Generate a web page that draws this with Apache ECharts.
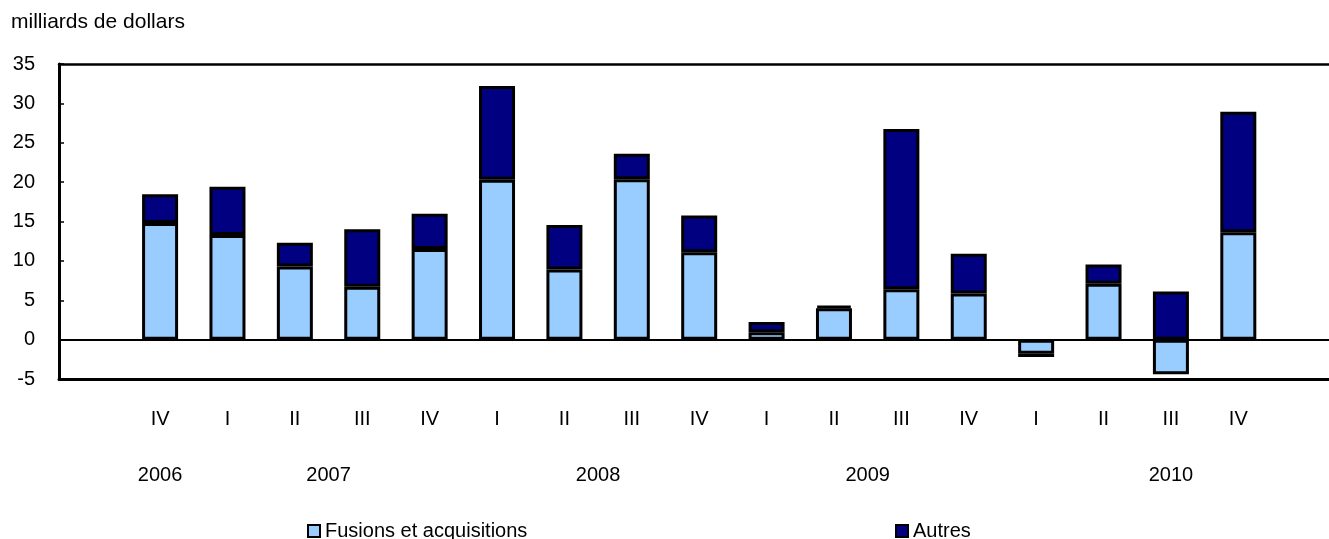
<!DOCTYPE html>
<html>
<head>
<meta charset="utf-8">
<script src="https://cdn.jsdelivr.net/npm/echarts@6/dist/echarts.min.js"></script>
<style>html,body{margin:0;padding:0;background:#fff}#c{width:1329px;height:539px}</style>
</head>
<body>
<div id="c"></div>
<script>
var quarters = ['IV','I','II','III','IV','I','II','III','IV','I','II','III','IV','I','II','III','IV'];
var years = ['2006','2007','2008','2009','2010'];
var yearAt = [0, 2.5, 6.5, 10.5, 15];
var fusions = [14.8, 13.3, 9.3, 6.7, 11.5, 20.3, 8.9, 20.35, 11.1, 0.95, 4.0, 6.4, 5.85, -1.8, 7.1, -4.4, 13.65];
var autres  = [3.65, 6.1, 3.0, 7.3, 4.5, 11.9, 5.65, 3.25, 4.65, 1.3, 0.3, 20.35, 5.05, -0.4, 2.45, 6.1, 15.3];
var yTicks = {min: -5, max: 35, step: 5};
var FONT = '"Liberation Sans", Arial, sans-serif';

// leading empty slot before the first quarter
var cats = [''].concat(quarters);
function pad(arr){ return [null].concat(arr); }

var chart = echarts.init(document.getElementById('c'));
chart.setOption({
  animation: false,
  textStyle: {fontFamily: FONT, color: '#000'},
  graphic: [{type: 'text', left: 11, top: 12, style: {text: 'milliards de dollars', font: '21px ' + FONT, fill: '#000'}}],
  grid: [
    {left: 59, right: 57, top: 64, bottom: 160},
    {left: 59, right: 0, top: 64, bottom: 160}
  ],
  xAxis: [
    {type: 'category', gridIndex: 0, data: cats, boundaryGap: true,
     axisLine: {show: false}, axisTick: {show: false}, splitLine: {show: false},
     axisLabel: {margin: 30, fontSize: 20, color: '#000', fontFamily: FONT, interval: 0}},
    {type: 'value', gridIndex: 0, position: 'bottom', min: -1.5, max: 16.5, interval: 0.5,
     axisLine: {show: false, onZero: false}, axisTick: {show: false}, splitLine: {show: false},
     axisLabel: {margin: 86, fontSize: 20, color: '#000', fontFamily: FONT,
       formatter: function(v){ for (var i=0;i<yearAt.length;i++){ if (Math.abs(v-yearAt[i])<1e-6) return years[i]; } return ''; }}},
    {type: 'value', gridIndex: 1, position: 'bottom', min: 0, max: 1,
     axisLine: {show: true, onZero: false, lineStyle: {color: '#000', width: 3}},
     axisTick: {show: false}, axisLabel: {show: false}, splitLine: {show: false}},
    {type: 'value', gridIndex: 1, position: 'top', min: 0, max: 1,
     axisLine: {show: true, onZero: false, lineStyle: {color: '#000', width: 2.5}},
     axisTick: {show: false}, axisLabel: {show: false}, splitLine: {show: false}}
  ],
  yAxis: [
    {type: 'value', gridIndex: 0, min: yTicks.min, max: yTicks.max, interval: yTicks.step,
     axisLine: {show: true, onZero: false, lineStyle: {color: '#000', width: 3}},
     axisTick: {show: true, inside: true, length: 5, lineStyle: {color: '#000', width: 1.5}},
     splitLine: {show: false},
     axisLabel: {margin: 24, fontSize: 20, color: '#000', fontFamily: FONT}},
    {type: 'value', gridIndex: 1, min: yTicks.min, max: yTicks.max, interval: yTicks.step, show: false,
     splitLine: {show: false}}
  ],
  legend: [
    {left: 302, top: 516, itemWidth: 12, itemHeight: 12, icon: 'rect',
     textStyle: {fontSize: 20, color: '#000', fontFamily: FONT},
     itemStyle: {borderColor: '#000', borderWidth: 2}, data: ['Fusions et acquisitions']},
    {left: 890, top: 516, itemWidth: 12, itemHeight: 12, icon: 'rect',
     textStyle: {fontSize: 20, color: '#000', fontFamily: FONT},
     itemStyle: {borderColor: '#000', borderWidth: 2}, data: ['Autres']}
  ],
  series: [
    {name: 'Fusions et acquisitions', type: 'bar', stack: 'a', barWidth: 36, xAxisIndex: 0, yAxisIndex: 0,
     itemStyle: {color: '#99CCFF', borderColor: '#000', borderWidth: 3},
     data: pad(fusions)},
    {name: 'Autres', type: 'bar', stack: 'a', barWidth: 36, xAxisIndex: 0, yAxisIndex: 0,
     itemStyle: {color: '#000080', borderColor: '#000', borderWidth: 3},
     data: pad(autres)},
    {name: 'zero', type: 'line', xAxisIndex: 2, yAxisIndex: 1, data: [], silent: true,
     markLine: {silent: true, symbol: 'none', label: {show: false},
       lineStyle: {color: '#000', width: 2, type: 'solid'}, data: [{yAxis: 0}]}}
  ]
});
</script>
</body>
</html>
